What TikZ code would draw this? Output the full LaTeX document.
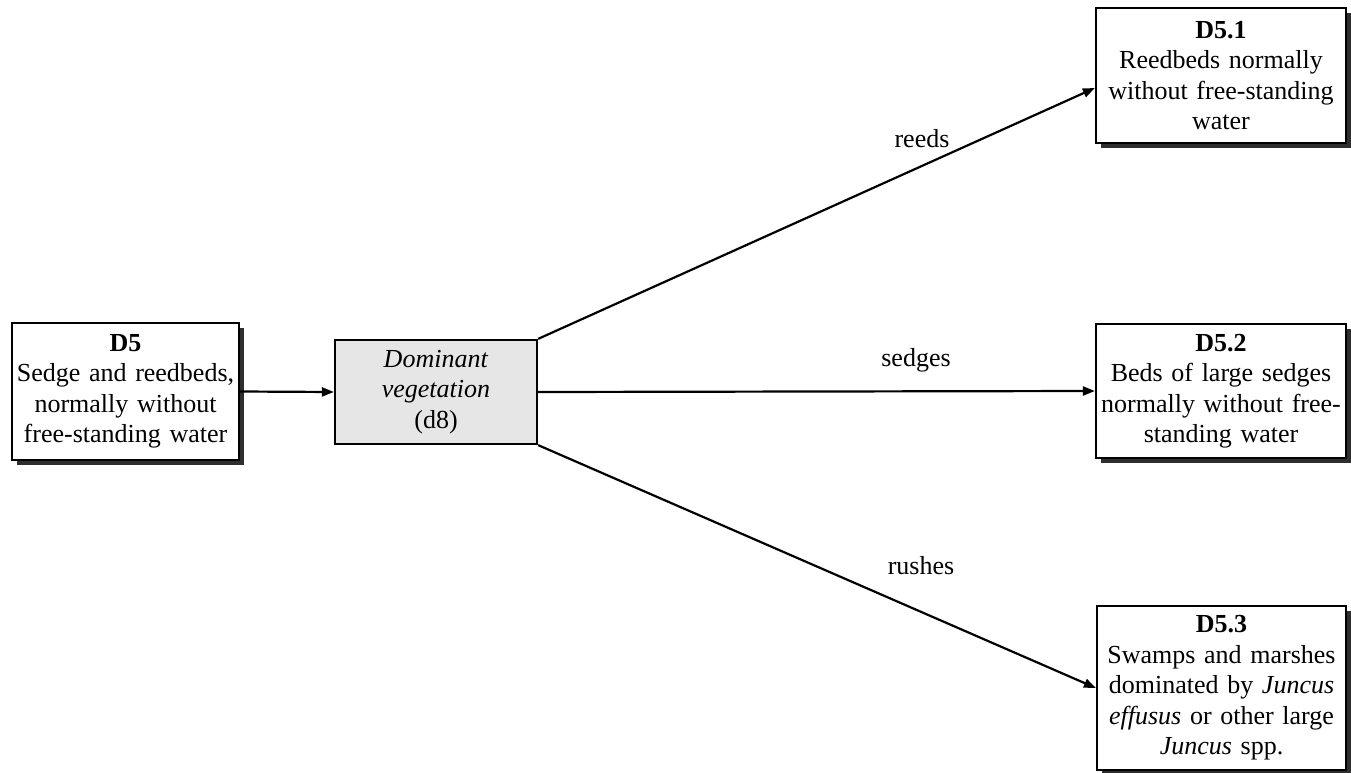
\documentclass[tikz,border=0pt]{standalone}
\usepackage{fontspec}
\setmainfont{Liberation Serif}
\usetikzlibrary{arrows.meta,shadows}
\definecolor{boxgray}{HTML}{E6E6E6}
\definecolor{shadowgray}{HTML}{2E2E2E}
\begin{document}
\begin{tikzpicture}[x=1pt,y=-1pt,
  font=\fontsize{26}{30.5}\selectfont,
  box/.style={draw=black, line width=2.2pt, fill=white, inner sep=0pt,
    align=center,
    drop shadow={shadow xshift=5pt, shadow yshift=-5pt, fill=shadowgray, opacity=1}},
  qbox/.style={draw=black, line width=2.2pt, fill=boxgray, inner sep=0pt, align=center},
  link/.style={line width=2.2pt, -{Triangle[length=12pt,width=9pt]}},
  lbl/.style={inner sep=0pt}]
\useasboundingbox (0,0) rectangle (1351,773);

% source habitat
\node[box, text width=227pt, minimum height=137pt] (d5) at (125.5,391.5)
  {\textbf{D5}\\Sedge and reedbeds,\\normally without\\free-standing water};

% decision box
\node[qbox, text width=202pt, minimum height=104pt] (dom) at (436,392)
  {\textit{Dominant}\\\textit{vegetation}\\(d8)};

% outcome habitats
\node[box, text width=250pt, minimum height=135pt] (d51) at (1221,75.5)
  {\textbf{D5.1}\\Reedbeds normally\\without free-standing\\water};
\node[box, text width=250pt, minimum height=134pt] (d52) at (1221,391)
  {\textbf{D5.2}\\Beds of large sedges\\normally without free-\\standing water};
\node[box, text width=249pt, minimum height=164pt] (d53) at (1221.5,688)
  {\textbf{D5.3}\\Swamps and marshes\\dominated by \textit{Juncus}\\\textit{effusus} or other large\\\textit{Juncus} spp.};

% connectors
\draw[link] (d5.east) -- (dom.west);
\draw[link] (dom.north east) -- ([yshift=-12.5pt]d51.west);
\draw[link] (dom.east) -- (d52.west);
\draw[link] (dom.south east) -- (d53.west);

% branch labels
\node[lbl] (lreeds) at (922,139) {reeds};
\node[lbl] (lsedges) at (916,360) {sedges};
\node[lbl] (lrushes) at (921,566) {rushes};
\end{tikzpicture}
\end{document}
